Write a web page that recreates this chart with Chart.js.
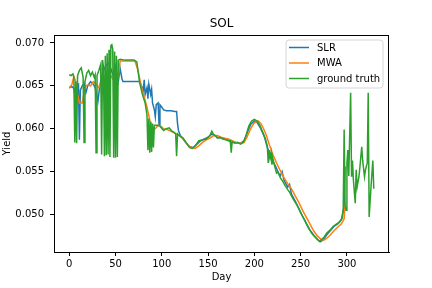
<!DOCTYPE html>
<html>
<head>
<meta charset="utf-8">
<script src="https://cdn.jsdelivr.net/npm/chart.js@4"></script>
<style>
  html, body { margin: 0; padding: 0; background: #fff; }
  #wrap { width: 432px; height: 288px; }
</style>
</head>
<body>
<div id="wrap"><canvas id="solChart" width="432" height="288"></canvas></div>
<script>
'use strict';

// tick labels
const xTicks = [0, 50, 100, 150, 200, 250, 300];
const yTicks = [0.050, 0.055, 0.060, 0.065, 0.070];

// SLR
const slrDays = [0, 3, 5, 7, 8, 10, 11, 12, 14, 16, 18, 20, 23, 26, 28, 31, 33, 36, 39, 42, 45, 48, 50, 53, 55, 57, 58,
    76, 78, 80, 81, 82, 84, 85, 86, 88, 89, 90, 92, 93, 94, 96, 97, 98, 100, 102, 105, 110, 114, 116, 117, 118, 120,
    123, 126, 130, 134, 138, 142, 146, 150, 154, 157, 160, 165, 170, 175, 180, 185, 189, 193, 196, 200, 203, 207,
    211, 214, 217, 220, 223, 225, 227, 228, 230, 232, 236, 238, 240, 244, 248, 252, 256, 260, 264, 268, 271, 274,
    278, 282, 286, 290, 294, 297, 298];
const slrYield = [0.0648, 0.0649, 0.0647, 0.0631, 0.0650, 0.0652, 0.0587, 0.0645, 0.0650, 0.0653, 0.0642, 0.0650,
    0.0655, 0.0652, 0.0648, 0.0632, 0.0650, 0.0665, 0.0672, 0.0677, 0.0670, 0.0660, 0.0672, 0.0655, 0.0670, 0.0658,
    0.0655, 0.0655, 0.0650, 0.0645, 0.0657, 0.0640, 0.0648, 0.0635, 0.0652, 0.0640, 0.0646, 0.0630, 0.0622, 0.0614,
    0.0628, 0.0630, 0.0605, 0.0628, 0.0625, 0.0622, 0.0621, 0.0621, 0.0620, 0.0620, 0.0606, 0.0598, 0.0592, 0.0588,
    0.0584, 0.0579, 0.0578, 0.0582, 0.0586, 0.0588, 0.0590, 0.0594, 0.0592, 0.0590, 0.0589, 0.0588, 0.0584, 0.0584,
    0.0583, 0.0586, 0.0597, 0.0605, 0.0609, 0.0607, 0.0600, 0.0590, 0.0578, 0.0570, 0.0562, 0.0556, 0.0551, 0.0546,
    0.0545, 0.0550, 0.0540, 0.0532, 0.0535, 0.0524, 0.0516, 0.0507, 0.0498, 0.0490, 0.0482, 0.0476, 0.0471, 0.0468,
    0.0470, 0.0476, 0.0481, 0.0486, 0.0489, 0.0494, 0.0510, 0.0556];

// MWA
const mwaDays = [0, 3, 5, 7, 9, 11, 14, 16, 18, 20, 23, 26, 29, 32, 35, 38, 41, 44, 47, 50, 53, 55, 60, 65, 71, 74,
    78, 84, 87, 90, 93, 96, 99, 102, 106, 112, 122, 128, 132, 136, 140, 144, 148, 152, 156, 160, 164, 168, 172, 176,
    180, 185, 189, 192, 196, 200, 204, 207, 210, 213, 216, 220, 224, 228, 232, 236, 240, 244, 248, 252, 256, 260,
    264, 268, 272, 275, 278, 282, 286, 290, 294, 297, 298];
const mwaYield = [0.0647, 0.0652, 0.0661, 0.0655, 0.0640, 0.0630, 0.0630, 0.0642, 0.0650, 0.0651, 0.0650, 0.0655,
    0.0652, 0.0648, 0.0655, 0.0660, 0.0665, 0.0664, 0.0658, 0.0662, 0.0660, 0.0679, 0.0679, 0.0679, 0.0679, 0.0669,
    0.0649, 0.0625, 0.0610, 0.0601, 0.0600, 0.0604, 0.0603, 0.0600, 0.0599, 0.0596, 0.0590, 0.0581, 0.0578, 0.0577,
    0.0580, 0.0584, 0.0587, 0.0589, 0.0592, 0.0592, 0.0590, 0.0589, 0.0588, 0.0586, 0.0584, 0.0583, 0.0584, 0.0590,
    0.0600, 0.0607, 0.0609, 0.0606, 0.0600, 0.0592, 0.0582, 0.0570, 0.0560, 0.0551, 0.0543, 0.0536, 0.0530, 0.0522,
    0.0514, 0.0505, 0.0497, 0.0489, 0.0481, 0.0475, 0.0471, 0.0470, 0.0472, 0.0476, 0.0481, 0.0485, 0.0489, 0.0495,
    0.0513];

// ground truth
const gtDays = [0, 2, 4, 5, 6, 7, 8, 9, 11, 13, 15, 16, 17, 19, 21, 23, 25, 27, 28, 29, 30, 32, 34, 35, 36, 37, 38,
    39, 40, 41, 42, 43, 44, 45, 46, 47, 48, 49, 50, 51, 52, 53, 55, 60, 65, 70, 73, 76, 79, 82, 84, 85, 86, 87, 88,
    89, 90, 91, 92, 95, 98, 102, 105, 108, 111, 113, 115, 116, 117, 120, 123, 126, 130, 133, 136, 140, 144, 148, 152,
    154, 156, 158, 160, 163, 166, 169, 172, 174, 175, 176, 179, 182, 185, 188, 191, 194, 197, 200, 203, 206, 209,
    212, 214, 215, 216, 217, 218, 219, 220, 222, 224, 226, 228, 231, 233, 236, 238, 242, 246, 250, 254, 258, 262,
    266, 270, 272, 275, 278, 282, 285, 289, 292, 295, 296, 297, 298, 299, 300, 301, 302, 304, 305, 306, 307, 309,
    310, 311, 313, 314, 316, 317, 319, 320, 322, 323, 324, 326, 328, 329];
const gtYield = [0.0663, 0.0662, 0.0664, 0.0660, 0.0584, 0.0655, 0.0583, 0.0662, 0.0668, 0.0671, 0.0660, 0.0584,
    0.0655, 0.0665, 0.0668, 0.0662, 0.0666, 0.0660, 0.0663, 0.0572, 0.0662, 0.0668, 0.0675, 0.0570, 0.0680, 0.0672,
    0.0568, 0.0685, 0.0569, 0.0688, 0.0570, 0.0692, 0.0567, 0.0697, 0.0698, 0.0693, 0.0566, 0.0690, 0.0566, 0.0685,
    0.0567, 0.0680, 0.0681, 0.0680, 0.0680, 0.0680, 0.0678, 0.0654, 0.0640, 0.0630, 0.0616, 0.0575, 0.0612, 0.0572,
    0.0608, 0.0573, 0.0606, 0.0578, 0.0604, 0.0604, 0.0603, 0.0598, 0.0600, 0.0601, 0.0597, 0.0596, 0.0594, 0.0568,
    0.0594, 0.0591, 0.0589, 0.0584, 0.0578, 0.0577, 0.0580, 0.0586, 0.0587, 0.0588, 0.0592, 0.0597, 0.0593, 0.0592,
    0.0589, 0.0590, 0.0588, 0.0587, 0.0586, 0.0586, 0.0572, 0.0585, 0.0583, 0.0584, 0.0582, 0.0584, 0.0592, 0.0603,
    0.0609, 0.0611, 0.0609, 0.0604, 0.0596, 0.0588, 0.0580, 0.0560, 0.0575, 0.0566, 0.0572, 0.0558, 0.0565, 0.0556,
    0.0548, 0.0549, 0.0543, 0.0538, 0.0534, 0.0529, 0.0526, 0.0518, 0.0511, 0.0502, 0.0494, 0.0485, 0.0478, 0.0473,
    0.0469, 0.0470, 0.0473, 0.0478, 0.0482, 0.0486, 0.0489, 0.0491, 0.0496, 0.0505, 0.0599, 0.0510, 0.0505, 0.0560,
    0.0575, 0.0545, 0.0642, 0.0544, 0.0563, 0.0540, 0.0513, 0.0552, 0.0532, 0.0544, 0.0555, 0.0579, 0.0563, 0.0544,
    0.0552, 0.0560, 0.0642, 0.0497, 0.0532, 0.0563, 0.0530];

const FONT = 'DejaVu Sans';

function toPoints(days, vals) {
    return days.map((d, i) => ({ x: d, y: vals[i] }));
}

// box round the plot + legend in the upper right, matplotlib style
const framePlugin = {
    id: 'frame',
    afterDraw(chart) {
        const ctx = chart.ctx;
        const a = chart.chartArea;
        ctx.save();
        ctx.strokeStyle = '#000';
        ctx.lineWidth = 1;
        ctx.strokeRect(Math.round(a.left) + 0.5, Math.round(a.top) + 0.5,
            Math.round(a.right - a.left) - 1, Math.round(a.bottom - a.top));

        // legend
        const bx = 286, by = 40, bw = 97, bh = 48, r = 3;
        ctx.beginPath();
        ctx.moveTo(bx + r, by);
        ctx.arcTo(bx + bw, by, bx + bw, by + bh, r);
        ctx.arcTo(bx + bw, by + bh, bx, by + bh, r);
        ctx.arcTo(bx, by + bh, bx, by, r);
        ctx.arcTo(bx, by, bx + bw, by, r);
        ctx.closePath();
        ctx.fillStyle = 'rgba(255,255,255,0.8)';
        ctx.fill();
        ctx.strokeStyle = '#d6d6d6';
        ctx.lineWidth = 1;
        ctx.stroke();

        ctx.font = '10px "' + FONT + '"';
        ctx.textBaseline = 'middle';
        chart.data.datasets.forEach((ds, i) => {
            const y = 47.5 + i * 15.5;
            ctx.strokeStyle = ds.borderColor;
            ctx.lineWidth = 1.5;
            ctx.beginPath();
            ctx.moveTo(289, y);
            ctx.lineTo(309, y);
            ctx.stroke();
            ctx.fillStyle = '#000';
            ctx.fillText(ds.label, 317, y + 0.5);
        });
        ctx.restore();
    }
};

new Chart(document.getElementById('solChart'), {
    type: 'line',
    data: {
        datasets: [
            { label: 'SLR', data: toPoints(slrDays, slrYield), borderColor: '#1f77b4', order: 3 },
            { label: 'MWA', data: toPoints(mwaDays, mwaYield), borderColor: '#ff7f0e', order: 2 },
            { label: 'ground truth', data: toPoints(gtDays, gtYield), borderColor: '#2ca02c', order: 1 }
        ]
    },
    options: {
        responsive: false,
        animation: false,
        parsing: true,
        elements: {
            point: { radius: 0 },
            line: { borderWidth: 1.5, tension: 0, fill: false }
        },
        layout: { padding: { top: 0, right: 43, bottom: 0, left: 0 } },
        plugins: {
            legend: { display: false },
            tooltip: { enabled: false },
            title: {
                display: true,
                text: 'SOL',
                color: '#000',
                fullSize: false,
                font: { family: FONT, size: 12, weight: 'normal' },
                padding: { top: 17, bottom: 3.6 }
            }
        },
        scales: {
            x: {
                type: 'linear',
                min: -16.45,
                max: 345.45,
                afterFit(scale) { scale.height = 36; },
                afterBuildTicks(scale) { scale.ticks = xTicks.map(v => ({ value: v })); },
                grid: { drawOnChartArea: false, drawTicks: true, tickLength: 4, color: '#000' },
                border: { display: true, color: '#000' },
                ticks: {
                    color: '#000',
                    padding: 2,
                    maxRotation: 0,
                    font: { family: FONT, size: 10 },
                    callback: v => String(v)
                },
                title: {
                    display: true,
                    text: 'Day',
                    color: '#000',
                    font: { family: FONT, size: 10 },
                    padding: { top: 0, bottom: 5 }
                }
            },
            y: {
                type: 'linear',
                min: 0.04562,
                max: 0.07093,
                afterFit(scale) { scale.width = 54; },
                afterBuildTicks(scale) { scale.ticks = yTicks.map(v => ({ value: v })); },
                grid: { drawOnChartArea: false, drawTicks: true, tickLength: 4, color: '#000' },
                border: { display: true, color: '#000' },
                ticks: {
                    color: '#000',
                    padding: 6,
                    font: { family: FONT, size: 10 },
                    callback: v => v.toFixed(3)
                },
                title: {
                    display: true,
                    text: 'Yield',
                    color: '#000',
                    font: { family: FONT, size: 10 },
                    padding: { top: 1, bottom: 0 }
                }
            }
        }
    },
    plugins: [framePlugin]
});
</script>
</body>
</html>
